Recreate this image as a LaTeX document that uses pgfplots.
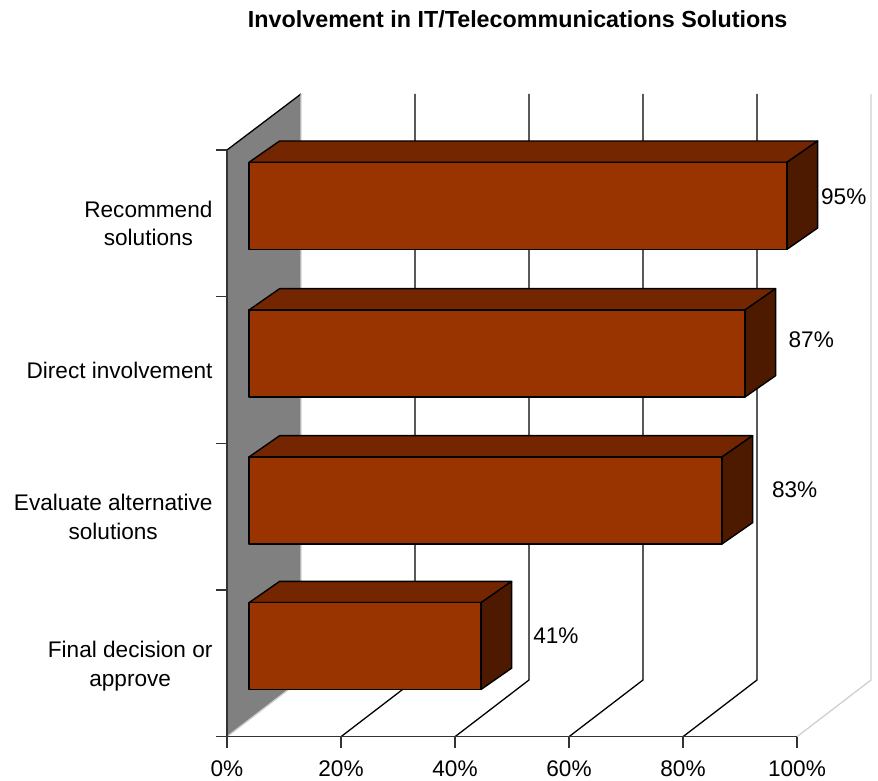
\documentclass[border=0pt]{standalone}
\usepackage{pgfplots}
\pgfplotsset{compat=1.18}
\usepackage{fontspec}
\setmainfont{Liberation Sans}
\definecolor{barfront}{HTML}{993300}
\definecolor{bartop}{HTML}{732600}
\definecolor{barside}{HTML}{4D1A00}
\definecolor{wall}{HTML}{808080}
\definecolor{axisdark}{HTML}{333333}
\definecolor{edgegray}{HTML}{D0D0D0}
\begin{document}
\begin{tikzpicture}[x=1pt,y=1pt]
\begin{axis}[
  scale only axis, width=570pt, height=586.7pt,
  xmin=0, xmax=100, ymin=0, ymax=586.7,
  clip=false, axis on top=true,
  axis x line*=bottom, axis y line*=left,
  axis line style={draw=axisdark, line width=1.3pt, -},
  tick style={draw=axisdark, line width=1.3pt},
  tick align=outside, major tick length=11.5pt,
  xtick={0,20,40,60,80,100},
  xticklabels={0\%,20\%,40\%,60\%,80\%,100\%},
  /pgf/number format/assume math mode=true,
  ytick={0,146.7,293.4,440,586.7},
  yticklabels={},
  extra y ticks={70.5,220,366.7,513.4},
  extra y tick labels={{Final decision or\\approve},{Evaluate alternative\\solutions},{Direct involvement},{Recommend\\solutions}},
  extra y tick style={major tick length=0pt, tick style={draw=none}},
  every tick label/.append style={font=\fontsize{22.6}{28.6}\selectfont},
  yticklabel style={align=center, anchor=east, xshift=-11pt},
  xticklabel style={yshift=-9pt},
]
% back wall
\addplot[fill=wall, draw=none] coordinates {(0,586.7)(12.98,642.7)(12.98,56.7)(0,0)} --cycle;
\addplot[draw=black, line width=1.3pt] coordinates {(0,586.7)(12.98,642.7)};
\addplot[draw=edgegray, line width=1.3pt] coordinates {(12.98,642.7)(12.98,56.7)(0,0)};
% grid
\addplot[draw=black, line width=1.3pt] coordinates {(32.98,642.7)(32.98,56.7)(20,0)};
\addplot[draw=black, line width=1.3pt] coordinates {(52.98,642.7)(52.98,56.7)(40,0)};
\addplot[draw=black, line width=1.3pt] coordinates {(72.98,642.7)(72.98,56.7)(60,0)};
\addplot[draw=black, line width=1.3pt] coordinates {(92.98,642.7)(92.98,56.7)(80,0)};
\addplot[draw=edgegray, line width=1.3pt] coordinates {(112.98,642.7)(112.98,56.7)(100,0)};
% bars
\pgfplotsset{every axis plot/.append style={draw=black, line width=1.4pt, line join=round}}
% Recommend solutions 95
\addplot[fill=bartop] coordinates {(3.86,574.4)(9.23,595.7)(103.62,595.7)(98.25,574.4)} --cycle;
\addplot[fill=barside] coordinates {(98.25,574.4)(103.62,595.7)(103.62,508.7)(98.25,487.4)} --cycle;
\addplot[fill=barfront] coordinates {(3.86,574.4)(98.25,574.4)(98.25,487.4)(3.86,487.4)} --cycle;
% Direct involvement 87
\addplot[fill=bartop] coordinates {(3.86,426.7)(9.23,448)(96.25,448)(90.88,426.7)} --cycle;
\addplot[fill=barside] coordinates {(90.88,426.7)(96.25,448)(96.25,361)(90.88,339.7)} --cycle;
\addplot[fill=barfront] coordinates {(3.86,426.7)(90.88,426.7)(90.88,339.7)(3.86,339.7)} --cycle;
% Evaluate alternative solutions 83
\addplot[fill=bartop] coordinates {(3.86,279.7)(9.23,301)(92.21,301)(86.84,279.7)} --cycle;
\addplot[fill=barside] coordinates {(86.84,279.7)(92.21,301)(92.21,214)(86.84,192.7)} --cycle;
\addplot[fill=barfront] coordinates {(3.86,279.7)(86.84,279.7)(86.84,192.7)(3.86,192.7)} --cycle;
% Final decision or approve 41
\addplot[fill=bartop] coordinates {(3.86,134)(9.23,155.3)(49.93,155.3)(44.56,134)} --cycle;
\addplot[fill=barside] coordinates {(44.56,134)(49.93,155.3)(49.93,68.5)(44.56,47.2)} --cycle;
\addplot[fill=barfront] coordinates {(3.86,134)(44.56,134)(44.56,47.2)(3.86,47.2)} --cycle;
% data labels
\node[font=\fontsize{22.6}{26}\selectfont] at (axis cs:108.2,539.7) {95\%};
\node[font=\fontsize{22.6}{26}\selectfont] at (axis cs:102.5,396.7) {87\%};
\node[font=\fontsize{22.6}{26}\selectfont] at (axis cs:99.6,246.7) {83\%};
\node[font=\fontsize{22.6}{26}\selectfont] at (axis cs:57.7,100.7) {41\%};
% title
\node[font=\bfseries\fontsize{23.3}{28}\selectfont] at (axis cs:51,717.7) {Involvement in IT/Telecommunications Solutions};
\path[use as bounding box] (axis cs:-39.825,-42.3) rectangle (axis cs:114.21,736.7);
\end{axis}
\end{tikzpicture}
\end{document}
